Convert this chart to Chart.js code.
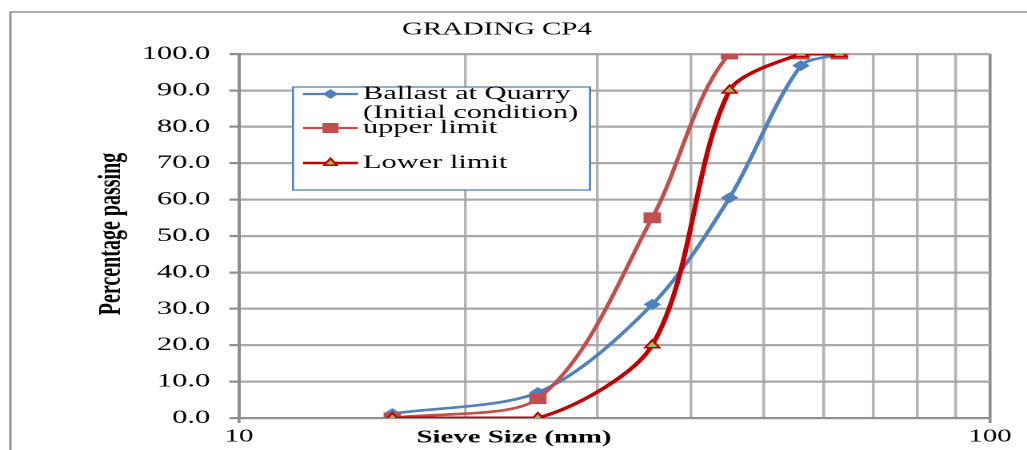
<!DOCTYPE html>
<html>
<head>
<meta charset="utf-8">
<script src="https://cdn.jsdelivr.net/npm/chart.js@4.4.1/dist/chart.umd.min.js"></script>
<style>
  html, body { margin: 0; padding: 0; background: #fff; overflow: hidden; }
  #wrap { width: 1027px; height: 450px; overflow: hidden; }
  /* the reference is a horizontally stretched export, so draw narrow and stretch */
  #chart { transform: scaleX(1.5997); transform-origin: 0 0; }
</style>
</head>
<body>
<div id="wrap"><canvas id="chart" width="642" height="450"></canvas></div>
<script>
// --- data ---
const SIEVE_SIZES = [16, 25, 35.5, 45, 56, 63];        // mm
const BALLAST = [1.2, 7.0, 31.2, 60.5, 96.8, 100];    // Ballast at Quarry (Initial condition)
const UPPER = [0, 5.3, 55.0, 100, 100, 100];          // upper limit
const LOWER = [0, 0, 20, 90, 100, 100];               // Lower limit
const X_GRID = [10, 20, 30, 40, 50, 60, 70, 80, 90, 100];
const X_LABELS = [10, 100];
const Y_MIN = 0, Y_MAX = 100, Y_STEP = 10;

const SERIF = "'Liberation Serif', 'Times New Roman', serif";
const BLUE = '#4f81bd';
const RED = '#c0504d';
const DARK_RED = '#c00000';
const GREEN = '#9bbb59';
const AXIS = '#8c8c8c';
const GRID = '#b4b4b4';

const SX = 1027 / 642;
const PLOT_LEFT = 239 / SX;
const PLOT_RIGHT = 990 / SX;

const toPoints = (ys) => SIEVE_SIZES.map((x, i) => ({ x, y: ys[i] }));

const SERIES = [
  { label: ['Ballast at Quarry', '(Initial condition)'], data: BALLAST, color: BLUE, fill: BLUE,
    style: 'rectRot', radius: 4.8, width: 2.7, order: 2 },
  { label: ['upper limit'], data: UPPER, color: RED, fill: RED,
    style: 'rect', radius: 7, width: 2.7, order: 1 },
  { label: ['Lower limit'], data: LOWER, color: DARK_RED, fill: GREEN,
    style: 'triangle', radius: 5.2, width: 3.1, order: 0 },
];

// title, axis titles, frame and the boxed legend
const decorations = {
  id: 'decorations',
  beforeDraw(chart) {
    const ctx = chart.ctx;
    ctx.save();
    ctx.fillStyle = '#fff';
    ctx.fillRect(0, 0, chart.width, chart.height);
    ctx.strokeStyle = AXIS;
    ctx.lineWidth = 1.4;
    ctx.strokeRect(6.5, 12, 800, 600);
    ctx.restore();
  },
  afterDraw(chart) {
    const ctx = chart.ctx;
    ctx.save();
    ctx.fillStyle = '#000';
    ctx.textAlign = 'center';
    ctx.textBaseline = 'middle';

    ctx.font = `18px ${SERIF}`;
    ctx.fillText('GRADING CP4', 497 / SX, 30);

    ctx.font = `bold 18px ${SERIF}`;
    ctx.fillText('Sieve Size (mm)', 514 / SX, 438);

    ctx.save();
    ctx.translate(112 / SX, 234);
    ctx.rotate(-Math.PI / 2);
    ctx.font = `bold 20px ${SERIF}`;
    ctx.fillText('Percentage passing', 0, 0);
    ctx.restore();

    // legend box
    const lx = 293 / SX, ly = 87, lw = (590 - 293) / SX, lh = 103;
    ctx.fillStyle = '#fff';
    ctx.fillRect(lx, ly, lw, lh);
    ctx.strokeStyle = BLUE;
    ctx.lineWidth = 1.3;
    ctx.strokeRect(lx, ly, lw, lh);

    const rows = [94, 128, 163];
    ctx.font = `19px ${SERIF}`;
    ctx.textAlign = 'left';
    SERIES.forEach((s, i) => {
      const y = rows[i];
      const x0 = 303 / SX, x1 = 358 / SX;
      ctx.strokeStyle = s.color;
      ctx.lineWidth = s.width - 0.5;
      ctx.beginPath();
      ctx.moveTo(x0, y);
      ctx.lineTo(x1, y);
      ctx.stroke();
      ctx.fillStyle = s.fill;
      ctx.strokeStyle = s.color;
      ctx.lineWidth = s.style === 'triangle' ? 1.5 : 1;
      Chart.helpers.drawPoint(ctx, { pointStyle: s.style, radius: s.radius - 0.6, rotation: 0, borderWidth: ctx.lineWidth }, (x0 + x1) / 2, y);
      ctx.fillStyle = '#000';
      s.label.forEach((t, j) => ctx.fillText(t, 363 / SX, y + j * 19));
    });
    ctx.restore();
  },
};

const isEdge = (c) => c.tick && X_LABELS.includes(c.tick.value);

new Chart(document.getElementById('chart'), {
  type: 'line',
  data: {
    datasets: SERIES.map((s) => ({
      label: s.label.join(' '),
      data: toPoints(s.data),
      borderColor: s.color,
      backgroundColor: s.fill,
      borderWidth: s.width,
      pointStyle: s.style,
      pointRadius: s.radius,
      pointBackgroundColor: s.fill,
      pointBorderColor: s.color,
      pointBorderWidth: s.style === 'triangle' ? 1.5 : 1,
      tension: 0.3,
      fill: false,
      order: s.order,
    })),
  },
  options: {
    responsive: false,
    devicePixelRatio: 2,
    animation: false,
    layout: { padding: { left: 0, right: 642 - PLOT_RIGHT, top: 54, bottom: 0 } },
    plugins: { legend: { display: false }, tooltip: { enabled: false }, title: { display: false } },
    scales: {
      x: {
        type: 'logarithmic',
        min: 10,
        max: 100,
        afterFit: (scale) => { scale.height = 32; },
        afterBuildTicks: (scale) => { scale.ticks = X_GRID.map((v) => ({ value: v })); },
        grid: {
          color: (c) => (isEdge(c) ? AXIS : GRID),
          lineWidth: (c) => (isEdge(c) ? 1.8 : 1.8),
          tickColor: (c) => (isEdge(c) ? AXIS : 'rgba(0,0,0,0)'),
          tickLength: 5,
        },
        border: { color: AXIS, width: 1.8 },
        ticks: {
          color: '#000',
          font: { family: SERIF, size: 18 },
          padding: 3,
          maxRotation: 0,
          autoSkip: false,
          callback: (v) => (X_LABELS.includes(v) ? String(v) : ''),
        },
      },
      y: {
        min: Y_MIN,
        max: Y_MAX,
        afterFit: (scale) => { scale.width = PLOT_LEFT; },
        grid: { color: '#a8a8a8', lineWidth: 2.2, tickColor: AXIS, tickLength: 6 },
        border: { color: AXIS, width: 2 },
        ticks: {
          stepSize: Y_STEP,
          color: '#000',
          font: { family: SERIF, size: 19 },
          padding: 12,
          callback: (v) => v.toFixed(1),
        },
      },
    },
  },
  plugins: [decorations],
});
</script>
</body>
</html>
